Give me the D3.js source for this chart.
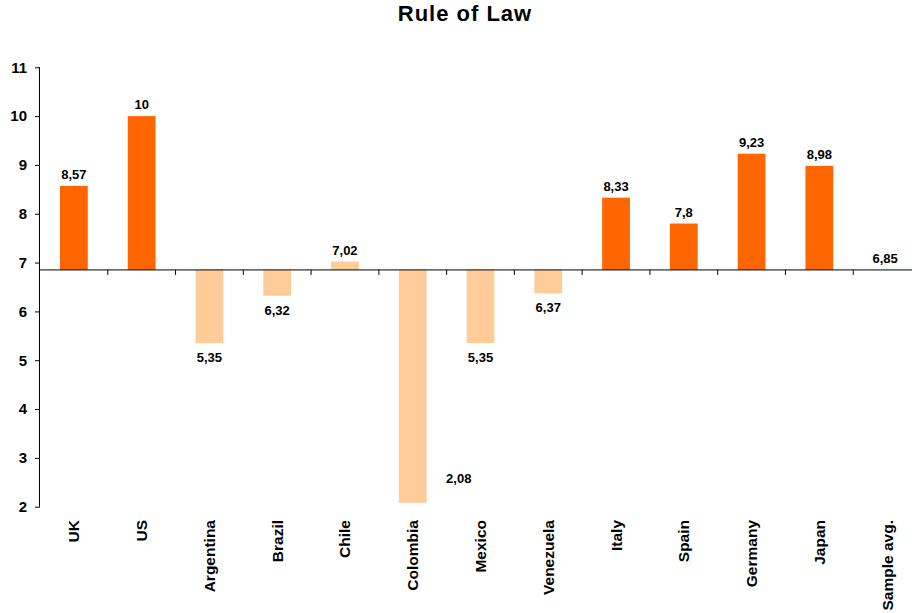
<!DOCTYPE html>
<html>
<head>
<meta charset="utf-8">
<script src="https://cdn.jsdelivr.net/npm/d3@7"></script>
<style>
  body { margin: 0; background: #fff; }
  text { font-family: "Liberation Sans", Arial, sans-serif; font-weight: bold; fill: #000; }
</style>
</head>
<body>
<svg width="912" height="613"></svg>
<script>
// data
var countries = ["UK", "US", "Argentina", "Brazil", "Chile", "Colombia", "Mexico",
                 "Venezuela", "Italy", "Spain", "Germany", "Japan", "Sample avg."];
var scores = [8.57, 10, 5.35, 6.32, 7.02, 2.08, 5.35, 6.37, 8.33, 7.8, 9.23, 8.98, 6.85];
var developed = [true, true, false, false, false, false, false, false, true, true, true, true, true];
var yTicks = [2, 3, 4, 5, 6, 7, 8, 9, 10, 11];
var average = 6.85;

var svg = d3.select("svg");

var x = d3.scaleBand()
    .domain(countries)
    .range([40, 921])
    .paddingInner(0.59)
    .paddingOuter(0.295);

var y = d3.scaleLinear()
    .domain([2, 11])
    .range([506.7, 67.3]);

var fmt = function(v) { return String(v).replace(".", ","); };

// title
svg.append("text")
    .attr("x", 465)
    .attr("y", 21)
    .attr("text-anchor", "middle")
    .style("font-size", "22px")
    .style("letter-spacing", "1px")
    .text("Rule of Law");

// bars from the average line
svg.append("g")
    .selectAll("rect")
    .data(countries)
    .join("rect")
    .attr("x", function(d) { return x(d); })
    .attr("width", x.bandwidth())
    .attr("y", function(d, i) { return y(Math.max(scores[i], average)); })
    .attr("height", function(d, i) { return Math.abs(y(scores[i]) - y(average)); })
    .attr("fill", function(d, i) { return developed[i] ? "#FF6600" : "#FFCC99"; });

// y axis
var yAxis = svg.append("g")
    .attr("transform", "translate(40,0)")
    .call(d3.axisLeft(y).tickValues(yTicks).tickSize(5).tickPadding(8).tickFormat(d3.format("d")));
yAxis.select(".domain").attr("stroke", "#000").attr("d", "M-0.5," + y(11) + "V" + y(2));
yAxis.selectAll(".tick line").attr("stroke", "#000");
yAxis.selectAll(".tick text")
    .style("font-size", "15px")
    .style("font-family", "'Liberation Sans', Arial, sans-serif")
    .style("font-weight", "bold");

// baseline at the sample average, ticks between categories
var base = y(average);
svg.append("line")
    .attr("x1", 40).attr("x2", 912)
    .attr("y1", base).attr("y2", base)
    .attr("stroke", "#000");

var gap = (x.step() - x.bandwidth()) / 2;
svg.append("g")
    .selectAll("line")
    .data(countries.slice(1))
    .join("line")
    .attr("x1", function(d) { return x(d) - gap; })
    .attr("x2", function(d) { return x(d) - gap; })
    .attr("y1", base)
    .attr("y2", base + 5)
    .attr("stroke", "#000");

// value labels
svg.append("g")
    .selectAll("text")
    .data(countries)
    .join("text")
    .attr("text-anchor", "middle")
    .style("font-size", "13px")
    .attr("x", function(d) {
        var cx = x(d) + x.bandwidth() / 2;
        if (d === "Colombia") return cx + 46;
        if (d === "Sample avg.") return cx - 2;
        return cx;
    })
    .attr("y", function(d, i) {
        if (d === "Colombia") return y(scores[i]) - 20;
        if (scores[i] >= average) return y(scores[i]) - 7;
        return y(scores[i]) + 19;
    })
    .text(function(d, i) { return fmt(scores[i]); });

// category labels
svg.append("g")
    .selectAll("text")
    .data(countries)
    .join("text")
    .attr("text-anchor", "end")
    .style("font-size", "15.5px")
    .attr("transform", function(d) {
        return "translate(" + (x(d) + x.bandwidth() / 2 + 5.5) + ",520) rotate(-90)";
    })
    .text(function(d) { return d; });
</script>
</body>
</html>
